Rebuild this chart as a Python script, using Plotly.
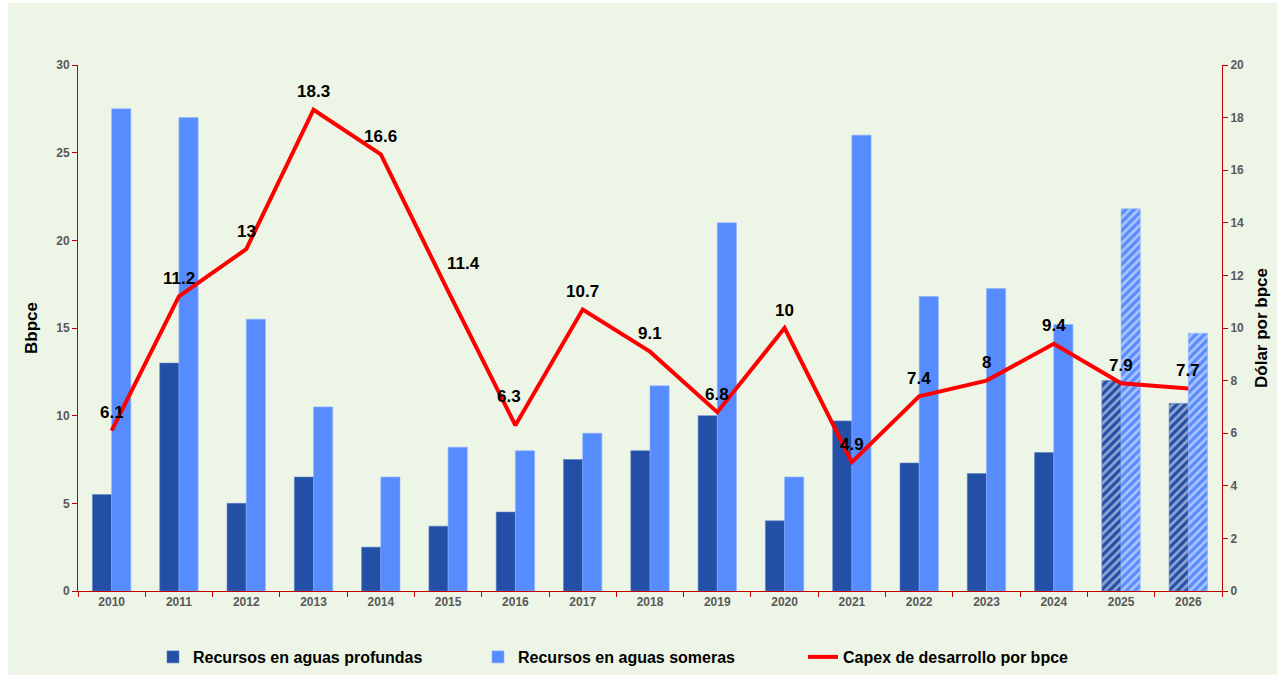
import plotly.graph_objects as go

years = ["2010", "2011", "2012", "2013", "2014", "2015", "2016", "2017", "2018",
         "2019", "2020", "2021", "2022", "2023", "2024", "2025", "2026"]
deep_water = [5.5, 13.0, 5.0, 6.5, 2.5, 3.7, 4.5, 7.5, 8.0, 10.0, 4.0, 9.7, 7.3, 6.7, 7.9, 12.0, 10.7]
shallow_water = [27.5, 27.0, 15.5, 10.5, 6.5, 8.2, 8.0, 9.0, 11.7, 21.0, 6.5, 26.0, 16.8, 17.25, 15.2, 21.8, 14.7]
capex = [6.1, 11.2, 13, 18.3, 16.6, 11.4, 6.3, 10.7, 9.1, 6.8, 10, 4.9, 7.4, 8, 9.4, 7.9, 7.7]
projected = [False] * 15 + [True] * 2

# label offsets (pixels) for a few crowded labels
label_offsets = {5: (15, 28), 6: (-6, 29)}

BG = "#EDF5E6"
AXIS_RED = "#C00000"
TICK_FONT = dict(family="Liberation Sans, Arial, sans-serif", size=12, color="#595959")
patterns = ["/" if p else "" for p in projected]

fig = go.Figure()
fig.add_trace(go.Bar(
    x=years, y=deep_water, name="Recursos en aguas profundas",
    marker=dict(color="#2350A6", line=dict(width=0.6, color="#5a7fc4"),
                pattern=dict(shape=patterns, fgcolor="white", fillmode="overlay",
                             size=6, solidity=0.45)),
))
fig.add_trace(go.Bar(
    x=years, y=shallow_water, name="Recursos en aguas someras",
    marker=dict(color="#578CFF", line=dict(width=0.6, color="#8fb2ff"),
                pattern=dict(shape=patterns, fgcolor="white", fillmode="overlay",
                             size=6, solidity=0.45)),
))
fig.add_trace(go.Scatter(
    x=years, y=capex, name="Capex de desarrollo por bpce", yaxis="y2",
    mode="lines", line=dict(color="#FF0000", width=4),
))

annotations = []
for i, v in enumerate(capex):
    dx, dy = label_offsets.get(i, (0, 18))
    annotations.append(dict(
        x=i, y=v, xref="x", yref="y2", text=f"{v:g}", showarrow=False,
        xshift=dx, yshift=dy,
        font=dict(family="Liberation Sans, Arial, sans-serif", size=17, color="black", weight="bold"),
    ))

fig.update_layout(
    width=1277, height=675,
    margin=dict(l=78, r=55, t=65, b=84, autoexpand=False),
    paper_bgcolor="white",
    plot_bgcolor=BG,
    barmode="group", bargap=0.43, bargroupgap=0,
    font=dict(family="Liberation Sans, Arial, sans-serif"),
    showlegend=True,
    legend=dict(orientation="h", x=153 / 1277, xanchor="left", xref="container",
                y=(675 - 657) / 675, yanchor="middle", yref="container",
                font=dict(size=16, color="black", weight="bold"),
                entrywidth=280, entrywidthmode="pixels", traceorder="normal",
                bgcolor="rgba(0,0,0,0)"),
    annotations=annotations,
    shapes=[dict(type="rect", xref="paper", yref="paper",
                 x0=(8 - 78) / 1144, x1=(1290 - 78) / 1144,
                 y0=(591 - 690) / 526, y1=(591 - 3) / 526,
                 fillcolor=BG, line=dict(width=0), layer="below")],
    xaxis=dict(type="category", range=[-0.5, 16.5], showline=True, linecolor=AXIS_RED,
               linewidth=1, ticks="outside", tickson="boundaries", ticklen=5,
               tickcolor=AXIS_RED, showgrid=False,
               tickfont=dict(TICK_FONT, weight="bold")),
    yaxis=dict(range=[0, 30], dtick=5, showline=True, linecolor=AXIS_RED, linewidth=1,
               ticks="outside", ticklen=5, tickcolor=AXIS_RED, showgrid=False, zeroline=False,
               tickfont=dict(TICK_FONT, weight="bold"),
               title=dict(text="Bbpce", standoff=14,
                          font=dict(size=17, color="black", weight="bold"))),
    yaxis2=dict(range=[0, 20], dtick=2, overlaying="y", side="right", showline=True,
                linecolor=AXIS_RED, linewidth=1, ticks="outside", ticklen=5,
                tickcolor=AXIS_RED, showgrid=False, zeroline=False,
                tickfont=dict(TICK_FONT, weight="bold"),
                title=dict(text="Dólar por bpce", standoff=12,
                           font=dict(size=17, color="black", weight="bold"))),
)

fig.write_html("out.html")
